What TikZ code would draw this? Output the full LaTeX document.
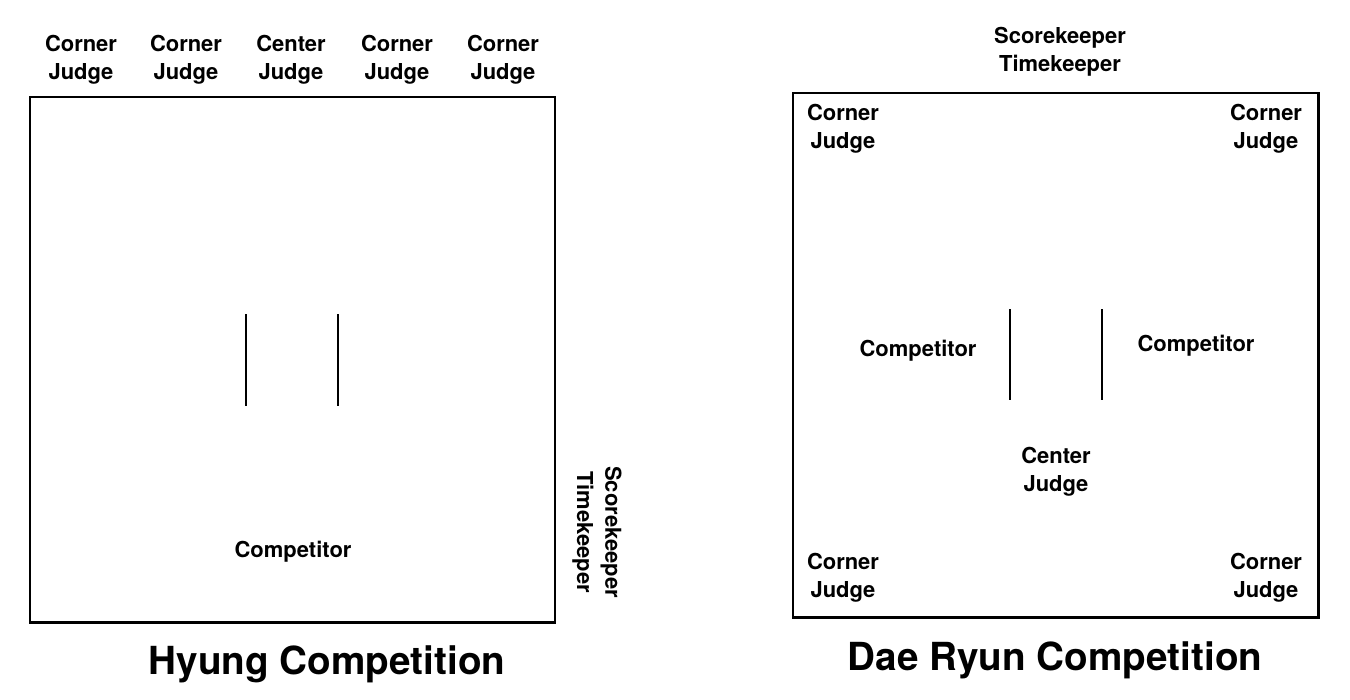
\documentclass[tikz,border=0pt]{standalone}
\usepackage{fontspec}
\setmainfont{TeX Gyre Heros}
\usepackage{tikz}

\begin{document}
\begin{tikzpicture}[x=0.02cm,y=-0.02cm,
	lbl/.style={font=\bfseries\fontsize{12.5}{16}\selectfont,align=center,inner sep=0pt},
	ttl/.style={font=\bfseries\fontsize{22}{26}\selectfont,inner sep=0pt}]
	\useasboundingbox (0,0) rectangle (1350,700);

% Hyung ring
\draw[line width=1.7pt] (30,97) rectangle (555,622);
% judges
\foreach \x/\t [count=\i] in {81/Corner,186/Corner,291/Center,397/Corner,503/Corner}
	\node[lbl] (hj\i) at (\x,60) {\t\\Judge};
\node[lbl,rotate=-90] (hst) at (597,532) {Scorekeeper\\Timekeeper};
% marks
\draw[line width=1.6pt] (246,314) -- (246,406)
		(338,314) -- (338,406);
\node[lbl] (hc) at (293,552) {Competitor};
\node[ttl] (htitle) at (327,664) {Hyung Competition};

% Dae Ryun ring
\draw[line width=1.7pt] (793,93) rectangle (1318,617);
\node[lbl] (dst) at (1060,52) {Scorekeeper\\Timekeeper};
\node[lbl] (dj1) at (843,129) {Corner\\Judge};
\node[lbl] (dj2) at (1266,129) {Corner\\Judge};
\node[lbl] (dj3) at (843,578) {Corner\\Judge};
\node[lbl] (dj4) at (1266,578) {Corner\\Judge};
% marks
\draw[line width=1.6pt] (1010,309) -- (1010,400)
		(1102,309) -- (1102,400);
\node[lbl] (dc1) at (918,351) {Competitor};
\node[lbl] (dc2) at (1196,346) {Competitor};
\node[lbl] (dcj) at (1056,472) {Center\\Judge};
\node[ttl] (dtitle) at (1055,660) {Dae Ryun Competition};

\end{tikzpicture}
\end{document}
